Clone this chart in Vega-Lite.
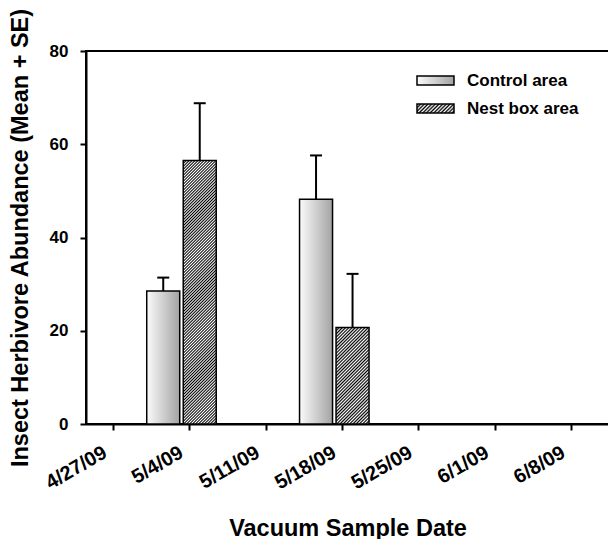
{
  "$schema": "https://vega.github.io/schema/vega-lite/v6.json",
  "width": 523,
  "height": 373,
  "autosize": {"type": "none"},
  "padding": {"left": 86, "top": 51, "right": 0, "bottom": 115},
  "background": "white",
  "config": {
    "font": "Liberation Sans",
    "view": {"stroke": "black", "strokeWidth": 2},
    "axis": {"domainColor": "black", "domainWidth": 2, "tickColor": "black", "tickWidth": 2, "tickSize": 6, "grid": false, "labelFont": "Liberation Sans", "labelFontWeight": "bold", "labelColor": "black", "titleFont": "Liberation Sans", "titleFontWeight": "bold", "titleColor": "black"},
    "legend": {"title": null, "orient": "none", "legendX": 330, "legendY": 10, "padding": 0, "symbolType": "M-1,-0.24H1V0.24H-1Z", "symbolSize": 1369, "symbolStrokeColor": "black", "symbolStrokeWidth": 1.5, "symbolOpacity": 1, "labelFont": "Liberation Sans", "labelFontSize": 17, "labelFontWeight": "bold", "labelColor": "black", "labelOffset": 12, "rowPadding": -14}
  },
  "data": {"values": [
    {"date": "2009-05-04", "series": "Control area", "mean": 28.5, "upper": 31.4},
    {"date": "2009-05-04", "series": "Nest box area", "mean": 56.5, "upper": 68.8},
    {"date": "2009-05-18", "series": "Control area", "mean": 48.2, "upper": 57.6},
    {"date": "2009-05-18", "series": "Nest box area", "mean": 20.7, "upper": 32.2}
  ]},
  "encoding": {
    "x": {"field": "date", "type": "temporal",
      "scale": {"type": "utc", "domain": [{"year": 2009, "month": 4, "date": 25, "utc": true}, {"year": 2009, "month": 6, "date": 11, "utc": true}]},
      "axis": {"title": "Vacuum Sample Date", "format": "%-m/%-d/%y",
        "values": [{"year": 2009, "month": 4, "date": 27, "utc": true}, {"year": 2009, "month": 5, "date": 4, "utc": true}, {"year": 2009, "month": 5, "date": 11, "utc": true}, {"year": 2009, "month": 5, "date": 18, "utc": true}, {"year": 2009, "month": 5, "date": 25, "utc": true}, {"year": 2009, "month": 6, "date": 1, "utc": true}, {"year": 2009, "month": 6, "date": 8, "utc": true}],
        "labelAngle": -30, "labelAlign": "right", "labelBaseline": "top", "labelFontSize": 20, "labelPadding": 12, "labelOffset": -13,
        "titleFontSize": 23.5, "titleY": 111, "titleBaseline": "alphabetic"}}
  },
  "layer": [
    {
      "mark": {"type": "bar", "size": 33, "opacity": 0},
      "encoding": {
        "y": {"field": "mean", "type": "quantitative", "title": "Insect Herbivore Abundance (Mean + SE)",
          "scale": {"domain": [0, 80]},
          "axis": {"values": [0, 20, 40, 60, 80], "labelFontSize": 17, "labelPadding": 12, "titleFontSize": 23.5, "titleX": -59, "titleBaseline": "alphabetic"}},
        "color": {"field": "series", "type": "nominal",
          "scale": {"domain": ["Control area", "Nest box area"], "range": [
            {"expr": "{gradient: 'linear', x1: 0, y1: 0, x2: 1, y2: 0, stops: [{offset: 0, color: '#fbfbfb'}, {offset: 1, color: '#a3a3a3'}]}"},
            {"expr": "{gradient: 'linear', x1: 0, y1: 0, x2: 1.1725, y2: 0.2814, stops: [{offset: 0, color: '#000'}, {offset: 0.04, color: '#fff'}, {offset: 0.08, color: '#000'}, {offset: 0.12, color: '#fff'}, {offset: 0.16, color: '#000'}, {offset: 0.2, color: '#fff'}, {offset: 0.24, color: '#000'}, {offset: 0.28, color: '#fff'}, {offset: 0.32, color: '#000'}, {offset: 0.36, color: '#fff'}, {offset: 0.4, color: '#000'}, {offset: 0.44, color: '#fff'}, {offset: 0.48, color: '#000'}, {offset: 0.52, color: '#fff'}, {offset: 0.56, color: '#000'}, {offset: 0.6, color: '#fff'}, {offset: 0.64, color: '#000'}, {offset: 0.68, color: '#fff'}, {offset: 0.72, color: '#000'}, {offset: 0.76, color: '#fff'}, {offset: 0.8, color: '#000'}, {offset: 0.84, color: '#fff'}, {offset: 0.88, color: '#000'}, {offset: 0.92, color: '#fff'}, {offset: 0.96, color: '#000'}, {offset: 1, color: '#fff'}]}"}
          ]}}
      }
    },
    {
      "transform": [{"filter": "datum.series === 'Control area'"}],
      "mark": {"type": "bar", "size": 33, "xOffset": -26, "stroke": "black", "strokeWidth": 1.5,
        "fill": {"gradient": "linear", "x1": 0, "y1": 0, "x2": 1, "y2": 0, "stops": [{"offset": 0, "color": "#fbfbfb"}, {"offset": 1, "color": "#a3a3a3"}]}},
      "encoding": {"y": {"field": "mean", "type": "quantitative", "title": "Insect Herbivore Abundance (Mean + SE)"}}
    },
    {
      "transform": [{"filter": "datum.series === 'Nest box area' && datum.mean > 40"}],
      "mark": {"type": "bar", "size": 33, "xOffset": 10.5, "stroke": "black", "strokeWidth": 1.5,
        "fill": {"gradient": "linear", "x1": 0, "y1": 0, "x2": 0.1388, "y2": 1.1078, "stops": [
          {"offset":0,"color":"#000"},{"offset":0.005,"color":"#fff"},{"offset":0.01,"color":"#000"},{"offset":0.015,"color":"#fff"},{"offset":0.02,"color":"#000"},{"offset":0.025,"color":"#fff"},{"offset":0.03,"color":"#000"},{"offset":0.035,"color":"#fff"},{"offset":0.04,"color":"#000"},{"offset":0.045,"color":"#fff"},
          {"offset":0.05,"color":"#000"},{"offset":0.055,"color":"#fff"},{"offset":0.06,"color":"#000"},{"offset":0.065,"color":"#fff"},{"offset":0.07,"color":"#000"},{"offset":0.075,"color":"#fff"},{"offset":0.08,"color":"#000"},{"offset":0.085,"color":"#fff"},{"offset":0.09,"color":"#000"},{"offset":0.095,"color":"#fff"},
          {"offset":0.1,"color":"#000"},{"offset":0.105,"color":"#fff"},{"offset":0.11,"color":"#000"},{"offset":0.115,"color":"#fff"},{"offset":0.12,"color":"#000"},{"offset":0.125,"color":"#fff"},{"offset":0.13,"color":"#000"},{"offset":0.135,"color":"#fff"},{"offset":0.14,"color":"#000"},{"offset":0.145,"color":"#fff"},
          {"offset":0.15,"color":"#000"},{"offset":0.155,"color":"#fff"},{"offset":0.16,"color":"#000"},{"offset":0.165,"color":"#fff"},{"offset":0.17,"color":"#000"},{"offset":0.175,"color":"#fff"},{"offset":0.18,"color":"#000"},{"offset":0.185,"color":"#fff"},{"offset":0.19,"color":"#000"},{"offset":0.195,"color":"#fff"},
          {"offset":0.2,"color":"#000"},{"offset":0.205,"color":"#fff"},{"offset":0.21,"color":"#000"},{"offset":0.215,"color":"#fff"},{"offset":0.22,"color":"#000"},{"offset":0.225,"color":"#fff"},{"offset":0.23,"color":"#000"},{"offset":0.235,"color":"#fff"},{"offset":0.24,"color":"#000"},{"offset":0.245,"color":"#fff"},
          {"offset":0.25,"color":"#000"},{"offset":0.255,"color":"#fff"},{"offset":0.26,"color":"#000"},{"offset":0.265,"color":"#fff"},{"offset":0.27,"color":"#000"},{"offset":0.275,"color":"#fff"},{"offset":0.28,"color":"#000"},{"offset":0.285,"color":"#fff"},{"offset":0.29,"color":"#000"},{"offset":0.295,"color":"#fff"},
          {"offset":0.3,"color":"#000"},{"offset":0.305,"color":"#fff"},{"offset":0.31,"color":"#000"},{"offset":0.315,"color":"#fff"},{"offset":0.32,"color":"#000"},{"offset":0.325,"color":"#fff"},{"offset":0.33,"color":"#000"},{"offset":0.335,"color":"#fff"},{"offset":0.34,"color":"#000"},{"offset":0.345,"color":"#fff"},
          {"offset":0.35,"color":"#000"},{"offset":0.355,"color":"#fff"},{"offset":0.36,"color":"#000"},{"offset":0.365,"color":"#fff"},{"offset":0.37,"color":"#000"},{"offset":0.375,"color":"#fff"},{"offset":0.38,"color":"#000"},{"offset":0.385,"color":"#fff"},{"offset":0.39,"color":"#000"},{"offset":0.395,"color":"#fff"},
          {"offset":0.4,"color":"#000"},{"offset":0.405,"color":"#fff"},{"offset":0.41,"color":"#000"},{"offset":0.415,"color":"#fff"},{"offset":0.42,"color":"#000"},{"offset":0.425,"color":"#fff"},{"offset":0.43,"color":"#000"},{"offset":0.435,"color":"#fff"},{"offset":0.44,"color":"#000"},{"offset":0.445,"color":"#fff"},
          {"offset":0.45,"color":"#000"},{"offset":0.455,"color":"#fff"},{"offset":0.46,"color":"#000"},{"offset":0.465,"color":"#fff"},{"offset":0.47,"color":"#000"},{"offset":0.475,"color":"#fff"},{"offset":0.48,"color":"#000"},{"offset":0.485,"color":"#fff"},{"offset":0.49,"color":"#000"},{"offset":0.495,"color":"#fff"},
          {"offset":0.5,"color":"#000"},{"offset":0.505,"color":"#fff"},{"offset":0.51,"color":"#000"},{"offset":0.515,"color":"#fff"},{"offset":0.52,"color":"#000"},{"offset":0.525,"color":"#fff"},{"offset":0.53,"color":"#000"},{"offset":0.535,"color":"#fff"},{"offset":0.54,"color":"#000"},{"offset":0.545,"color":"#fff"},
          {"offset":0.55,"color":"#000"},{"offset":0.555,"color":"#fff"},{"offset":0.56,"color":"#000"},{"offset":0.565,"color":"#fff"},{"offset":0.57,"color":"#000"},{"offset":0.575,"color":"#fff"},{"offset":0.58,"color":"#000"},{"offset":0.585,"color":"#fff"},{"offset":0.59,"color":"#000"},{"offset":0.595,"color":"#fff"},
          {"offset":0.6,"color":"#000"},{"offset":0.605,"color":"#fff"},{"offset":0.61,"color":"#000"},{"offset":0.615,"color":"#fff"},{"offset":0.62,"color":"#000"},{"offset":0.625,"color":"#fff"},{"offset":0.63,"color":"#000"},{"offset":0.635,"color":"#fff"},{"offset":0.64,"color":"#000"},{"offset":0.645,"color":"#fff"},
          {"offset":0.65,"color":"#000"},{"offset":0.655,"color":"#fff"},{"offset":0.66,"color":"#000"},{"offset":0.665,"color":"#fff"},{"offset":0.67,"color":"#000"},{"offset":0.675,"color":"#fff"},{"offset":0.68,"color":"#000"},{"offset":0.685,"color":"#fff"},{"offset":0.69,"color":"#000"},{"offset":0.695,"color":"#fff"},
          {"offset":0.7,"color":"#000"},{"offset":0.705,"color":"#fff"},{"offset":0.71,"color":"#000"},{"offset":0.715,"color":"#fff"},{"offset":0.72,"color":"#000"},{"offset":0.725,"color":"#fff"},{"offset":0.73,"color":"#000"},{"offset":0.735,"color":"#fff"},{"offset":0.74,"color":"#000"},{"offset":0.745,"color":"#fff"},
          {"offset":0.75,"color":"#000"},{"offset":0.755,"color":"#fff"},{"offset":0.76,"color":"#000"},{"offset":0.765,"color":"#fff"},{"offset":0.77,"color":"#000"},{"offset":0.775,"color":"#fff"},{"offset":0.78,"color":"#000"},{"offset":0.785,"color":"#fff"},{"offset":0.79,"color":"#000"},{"offset":0.795,"color":"#fff"},
          {"offset":0.8,"color":"#000"},{"offset":0.805,"color":"#fff"},{"offset":0.81,"color":"#000"},{"offset":0.815,"color":"#fff"},{"offset":0.82,"color":"#000"},{"offset":0.825,"color":"#fff"},{"offset":0.83,"color":"#000"},{"offset":0.835,"color":"#fff"},{"offset":0.84,"color":"#000"},{"offset":0.845,"color":"#fff"},
          {"offset":0.85,"color":"#000"},{"offset":0.855,"color":"#fff"},{"offset":0.86,"color":"#000"},{"offset":0.865,"color":"#fff"},{"offset":0.87,"color":"#000"},{"offset":0.875,"color":"#fff"},{"offset":0.88,"color":"#000"},{"offset":0.885,"color":"#fff"},{"offset":0.89,"color":"#000"},{"offset":0.895,"color":"#fff"},
          {"offset":0.9,"color":"#000"},{"offset":0.905,"color":"#fff"},{"offset":0.91,"color":"#000"},{"offset":0.915,"color":"#fff"},{"offset":0.92,"color":"#000"},{"offset":0.925,"color":"#fff"},{"offset":0.93,"color":"#000"},{"offset":0.935,"color":"#fff"},{"offset":0.94,"color":"#000"},{"offset":0.945,"color":"#fff"},
          {"offset":0.95,"color":"#000"},{"offset":0.955,"color":"#fff"},{"offset":0.96,"color":"#000"},{"offset":0.965,"color":"#fff"},{"offset":0.97,"color":"#000"},{"offset":0.975,"color":"#fff"},{"offset":0.98,"color":"#000"},{"offset":0.985,"color":"#fff"},{"offset":0.99,"color":"#000"},{"offset":0.995,"color":"#fff"},
          {"offset":1,"color":"#000"}]}},
      "encoding": {"y": {"field": "mean", "type": "quantitative", "title": "Insect Herbivore Abundance (Mean + SE)"}}
    },
    {
      "transform": [{"filter": "datum.series === 'Nest box area' && datum.mean < 40"}],
      "mark": {"type": "bar", "size": 33, "xOffset": 10.5, "stroke": "black", "strokeWidth": 1.5,
        "fill": {"gradient": "linear", "x1": 0, "y1": 0, "x2": 0.4108, "y2": 1.2014, "stops": [
          {"offset":0,"color":"#000"},{"offset":0.0125,"color":"#fff"},{"offset":0.025,"color":"#000"},{"offset":0.0375,"color":"#fff"},{"offset":0.05,"color":"#000"},{"offset":0.0625,"color":"#fff"},{"offset":0.075,"color":"#000"},{"offset":0.0875,"color":"#fff"},
          {"offset":0.1,"color":"#000"},{"offset":0.1125,"color":"#fff"},{"offset":0.125,"color":"#000"},{"offset":0.1375,"color":"#fff"},{"offset":0.15,"color":"#000"},{"offset":0.1625,"color":"#fff"},{"offset":0.175,"color":"#000"},{"offset":0.1875,"color":"#fff"},
          {"offset":0.2,"color":"#000"},{"offset":0.2125,"color":"#fff"},{"offset":0.225,"color":"#000"},{"offset":0.2375,"color":"#fff"},{"offset":0.25,"color":"#000"},{"offset":0.2625,"color":"#fff"},{"offset":0.275,"color":"#000"},{"offset":0.2875,"color":"#fff"},
          {"offset":0.3,"color":"#000"},{"offset":0.3125,"color":"#fff"},{"offset":0.325,"color":"#000"},{"offset":0.3375,"color":"#fff"},{"offset":0.35,"color":"#000"},{"offset":0.3625,"color":"#fff"},{"offset":0.375,"color":"#000"},{"offset":0.3875,"color":"#fff"},
          {"offset":0.4,"color":"#000"},{"offset":0.4125,"color":"#fff"},{"offset":0.425,"color":"#000"},{"offset":0.4375,"color":"#fff"},{"offset":0.45,"color":"#000"},{"offset":0.4625,"color":"#fff"},{"offset":0.475,"color":"#000"},{"offset":0.4875,"color":"#fff"},
          {"offset":0.5,"color":"#000"},{"offset":0.5125,"color":"#fff"},{"offset":0.525,"color":"#000"},{"offset":0.5375,"color":"#fff"},{"offset":0.55,"color":"#000"},{"offset":0.5625,"color":"#fff"},{"offset":0.575,"color":"#000"},{"offset":0.5875,"color":"#fff"},
          {"offset":0.6,"color":"#000"},{"offset":0.6125,"color":"#fff"},{"offset":0.625,"color":"#000"},{"offset":0.6375,"color":"#fff"},{"offset":0.65,"color":"#000"},{"offset":0.6625,"color":"#fff"},{"offset":0.675,"color":"#000"},{"offset":0.6875,"color":"#fff"},
          {"offset":0.7,"color":"#000"},{"offset":0.7125,"color":"#fff"},{"offset":0.725,"color":"#000"},{"offset":0.7375,"color":"#fff"},{"offset":0.75,"color":"#000"},{"offset":0.7625,"color":"#fff"},{"offset":0.775,"color":"#000"},{"offset":0.7875,"color":"#fff"},
          {"offset":0.8,"color":"#000"},{"offset":0.8125,"color":"#fff"},{"offset":0.825,"color":"#000"},{"offset":0.8375,"color":"#fff"},{"offset":0.85,"color":"#000"},{"offset":0.8625,"color":"#fff"},{"offset":0.875,"color":"#000"},{"offset":0.8875,"color":"#fff"},
          {"offset":0.9,"color":"#000"},{"offset":0.9125,"color":"#fff"},{"offset":0.925,"color":"#000"},{"offset":0.9375,"color":"#fff"},{"offset":0.95,"color":"#000"},{"offset":0.9625,"color":"#fff"},{"offset":0.975,"color":"#000"},{"offset":0.9875,"color":"#fff"},
          {"offset":1,"color":"#000"}]}},
      "encoding": {"y": {"field": "mean", "type": "quantitative", "title": "Insect Herbivore Abundance (Mean + SE)"}}
    },
    {
      "transform": [{"filter": "datum.series === 'Control area'"}],
      "mark": {"type": "rule", "xOffset": -26, "color": "black", "strokeWidth": 2},
      "encoding": {"y": {"field": "mean", "type": "quantitative", "title": "Insect Herbivore Abundance (Mean + SE)"}, "y2": {"field": "upper"}}
    },
    {
      "transform": [{"filter": "datum.series === 'Nest box area'"}],
      "mark": {"type": "rule", "xOffset": 10.5, "color": "black", "strokeWidth": 2},
      "encoding": {"y": {"field": "mean", "type": "quantitative", "title": "Insect Herbivore Abundance (Mean + SE)"}, "y2": {"field": "upper"}}
    },
    {
      "transform": [{"filter": "datum.series === 'Control area'"}],
      "mark": {"type": "tick", "orient": "horizontal", "xOffset": -26, "color": "black", "opacity": 1, "size": 12, "thickness": 2},
      "encoding": {"y": {"field": "upper", "type": "quantitative", "title": "Insect Herbivore Abundance (Mean + SE)"}}
    },
    {
      "transform": [{"filter": "datum.series === 'Nest box area'"}],
      "mark": {"type": "tick", "orient": "horizontal", "xOffset": 10.5, "color": "black", "opacity": 1, "size": 12, "thickness": 2},
      "encoding": {"y": {"field": "upper", "type": "quantitative", "title": "Insect Herbivore Abundance (Mean + SE)"}}
    }
  ]
}
